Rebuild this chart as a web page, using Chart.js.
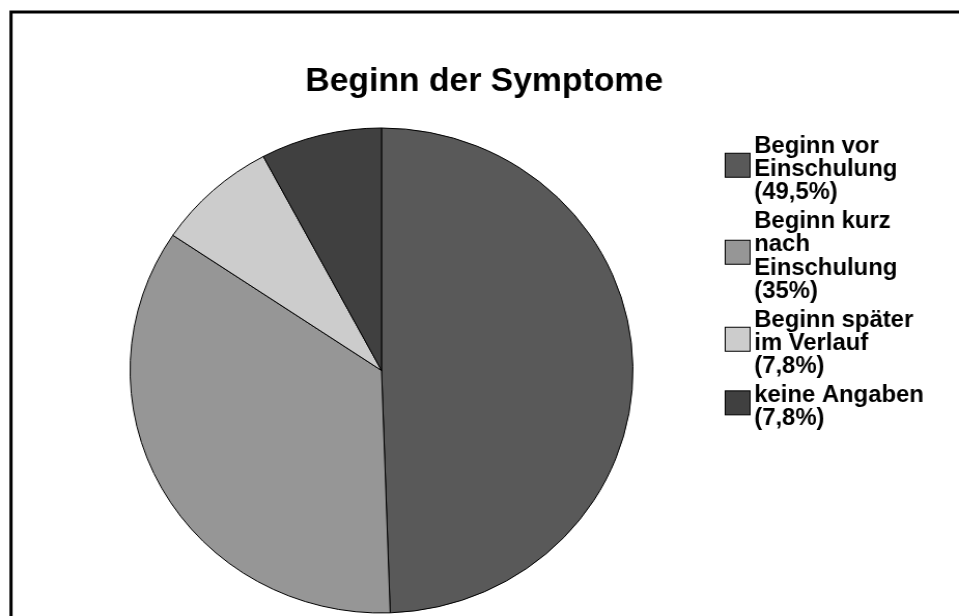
<!DOCTYPE html>
<html lang="de">
<head>
<meta charset="utf-8">
<title>Beginn der Symptome</title>
<script src="https://cdn.jsdelivr.net/npm/chart.js@4/dist/chart.umd.min.js"></script>
<style>
  html, body { margin: 0; padding: 0; background: #fff; overflow: hidden; }
  #chart { display: block; }
</style>
</head>
<body>
<canvas id="chart" width="925" height="616" style="width:959px;height:616px"></canvas>
<script>
// chart data
const chartTitle = 'Beginn der Symptome';
const categories = ['Beginn vor Einschulung', 'Beginn kurz nach Einschulung', 'Beginn später im Verlauf', 'keine Angaben'];
const values = [49.5, 35, 7.8, 7.8];
const valueLabels = ['49,5%', '35%', '7,8%', '7,8%'];
const sliceColors = ['#595959', '#969696', '#cccccc', '#404040'];

const FONT = '"Liberation Sans", Arial, Helvetica, sans-serif';

// wrap a legend label into lines no wider than maxWidth
function wrapText(ctx, text, maxWidth) {
    const words = text.split(' ');
    const lines = [];
    let line = '';
    words.forEach(w => {
        const test = line ? line + ' ' + w : w;
        if (line && ctx.measureText(test).width > maxWidth) {
            lines.push(line);
            line = w;
        } else {
            line = test;
        }
    });
    if (line) lines.push(line);
    return lines;
}

// frame, title and the side legend
const decorPlugin = {
    id: 'decor',
    beforeDraw(chart) {
        const ctx = chart.ctx;
        ctx.save();
        ctx.fillStyle = '#fff';
        ctx.fillRect(0, 0, chart.width, chart.height);
        ctx.strokeStyle = '#000';
        ctx.lineWidth = 3;
        ctx.strokeRect(10.6, 12, chart.width + 50, chart.height + 50);
        ctx.restore();
    },
    afterDraw(chart) {
        const ctx = chart.ctx;
        ctx.save();
        ctx.fillStyle = '#000';
        ctx.textBaseline = 'alphabetic';

        ctx.font = 'bold 32.5px ' + FONT;
        ctx.textAlign = 'center';
        ctx.fillText(chartTitle, 467, 91);

        const fontSize = 23;
        const lineH = 23.4;
        const itemGap = 28.5;
        const capH = 15.3;
        const boxX = 699.5, boxSize = 24, textX = 727.5;
        ctx.font = 'bold ' + fontSize + 'px ' + FONT;
        ctx.textAlign = 'left';

        let baseline = 152.5;
        categories.forEach((cat, i) => {
            const lines = wrapText(ctx, cat + ' (' + valueLabels[i] + ')', 172);
            lines.forEach((l, j) => ctx.fillText(l, textX, baseline + j * lineH));
            const lastBase = baseline + (lines.length - 1) * lineH;
            const mid = (baseline - capH + lastBase) / 2 - 3;
            ctx.fillStyle = sliceColors[i];
            ctx.fillRect(boxX, mid - boxSize / 2, boxSize, boxSize);
            ctx.lineWidth = 1;
            ctx.strokeStyle = '#000';
            ctx.strokeRect(boxX, mid - boxSize / 2, boxSize, boxSize);
            ctx.fillStyle = '#000';
            baseline = lastBase + itemGap;
        });
        ctx.restore();
    }
};

new Chart(document.getElementById('chart'), {
    type: 'pie',
    data: {
        labels: categories,
        datasets: [{
            data: values,
            backgroundColor: sliceColors,
            borderColor: '#000',
            borderWidth: 1,
            offset: 0,
            hoverOffset: 0
        }]
    },
    options: {
        responsive: false,
        animation: false,
        events: [],
        radius: 242.5,
        layout: {
            padding: { left: 125, right: 314, top: 128, bottom: 3 }
        },
        plugins: {
            legend: { display: false },
            title: { display: false },
            tooltip: { enabled: false }
        }
    },
    plugins: [decorPlugin]
});
</script>
</body>
</html>
